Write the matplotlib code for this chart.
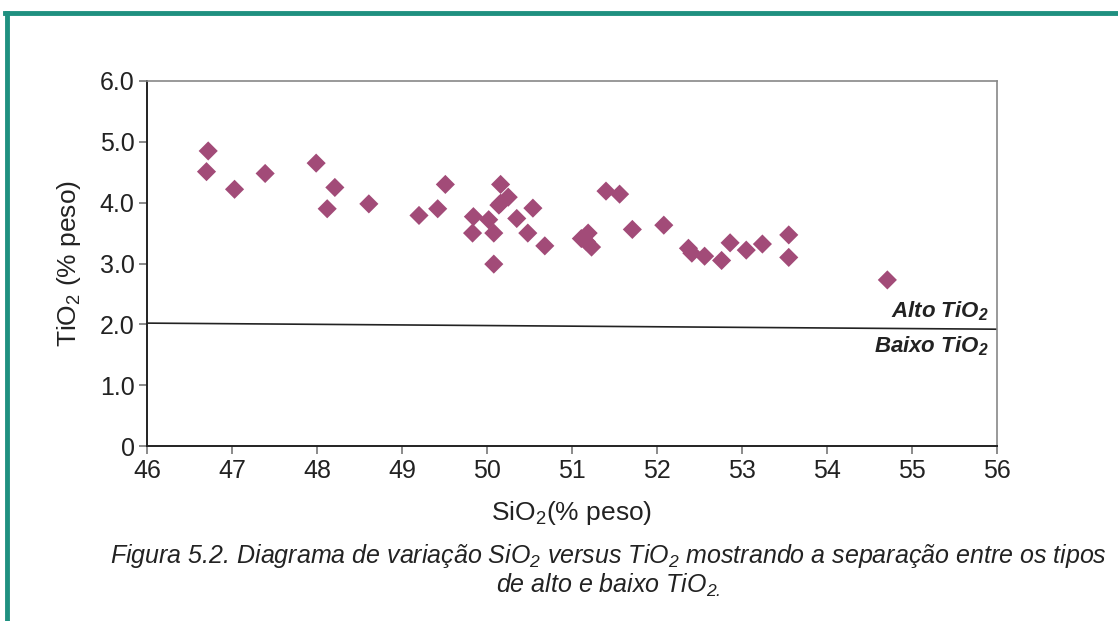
import matplotlib
matplotlib.use('Agg')
import matplotlib.pyplot as plt
from matplotlib.lines import Line2D

plt.rcParams['font.family'] = ['Liberation Sans', 'DejaVu Sans']
plt.rcParams['mathtext.fontset'] = 'custom'
plt.rcParams['mathtext.rm'] = 'Liberation Sans'
plt.rcParams['mathtext.it'] = 'Liberation Sans:italic'

# SiO2 / TiO2 (% peso)
sio2 = [46.72, 46.70, 47.03, 47.39, 47.99, 48.21, 48.12, 48.61, 49.20, 49.42,
        49.51, 49.83, 49.84, 50.02, 50.08, 50.08, 50.16, 50.16, 50.25, 50.14,
        50.35, 50.54, 50.48, 50.68, 51.11, 51.17, 51.19, 51.23, 51.40, 51.56,
        51.71, 52.08, 52.37, 52.41, 52.56, 52.76, 52.86, 53.05, 53.24, 53.55,
        53.55, 54.71]
tio2 = [4.85, 4.51, 4.22, 4.48, 4.65, 4.25, 3.90, 3.98, 3.79, 3.90,
        4.30, 3.50, 3.77, 3.72, 3.50, 2.99, 4.30, 3.99, 4.09, 3.96,
        3.74, 3.91, 3.50, 3.29, 3.41, 3.36, 3.50, 3.27, 4.19, 4.14,
        3.56, 3.63, 3.25, 3.17, 3.12, 3.05, 3.34, 3.22, 3.32, 3.47,
        3.10, 2.73]

# division line between high and low TiO2
div_x = [46, 56]
div_y = [2.02, 1.92]

xticks = list(range(46, 57))
yticks = [0, 1, 2, 3, 4, 5, 6]
yticklabels = ['0', '1.0', '2.0', '3.0', '4.0', '5.0', '6.0']

fig = plt.figure(figsize=(11.18, 6.21), dpi=100)
ax = fig.add_axes([147 / 1118, 1 - 446 / 621, 850 / 1118, 365 / 621])

ax.scatter(sio2, tio2, marker='D', s=95, color='#a24b78', edgecolors='none',
           zorder=3)
ax.plot(div_x, div_y, color='#222222', lw=1.2, zorder=2)

ax.set_xlim(46, 56)
ax.set_ylim(0, 6)
ax.set_xticks(xticks)
ax.set_yticks(yticks)
ax.set_yticklabels(yticklabels)
ax.tick_params(direction='out', length=6, width=1.2, color='#777777',
               labelsize=18, labelcolor='#222222', pad=3)

for s in ['left', 'bottom']:
    ax.spines[s].set_color('#222222')
    ax.spines[s].set_linewidth(1.4)
for s in ['top', 'right']:
    ax.spines[s].set_color('#888888')
    ax.spines[s].set_linewidth(1.2)

ax.set_xlabel('SiO$_\\mathregular{2}$(% peso)', fontsize=19, color='#222222',
              labelpad=12)
ax.set_ylabel('TiO$_\\mathregular{2}$ (% peso)', fontsize=19, color='#222222',
              labelpad=12)

ax.text(0.99, 2.22, 'Alto TiO$_\\mathregular{2}$', transform=ax.get_yaxis_transform(),
        ha='right', va='center', fontsize=16, style='italic', weight='bold',
        color='#222222')
ax.text(0.99, 1.64, 'Baixo TiO$_\\mathregular{2}$', transform=ax.get_yaxis_transform(),
        ha='right', va='center', fontsize=16, style='italic', weight='bold',
        color='#222222')

fig.text(608 / 1118, 1 - 556 / 621,
         'Figura 5.2. Diagrama de variação SiO$_\\mathregular{2}$ versus '
         'TiO$_\\mathregular{2}$ mostrando a separação entre os tipos',
         ha='center', va='center', fontsize=18, style='italic', color='#222222')
fig.text(608 / 1118, 1 - 585 / 621,
         'de alto e baixo TiO$_\\mathregular{2.}$',
         ha='center', va='center', fontsize=18, style='italic', color='#222222')

# teal frame (left and top)
teal = '#1f9080'
fig.add_artist(Line2D([7 / 1118, 7 / 1118], [0, 1 - 13 / 621], color=teal,
                      lw=3.5, transform=fig.transFigure))
fig.add_artist(Line2D([5 / 1118, 1], [1 - 13 / 621, 1 - 13 / 621], color=teal,
                      lw=3.5, transform=fig.transFigure))

fig.savefig('out.png', dpi=100)
